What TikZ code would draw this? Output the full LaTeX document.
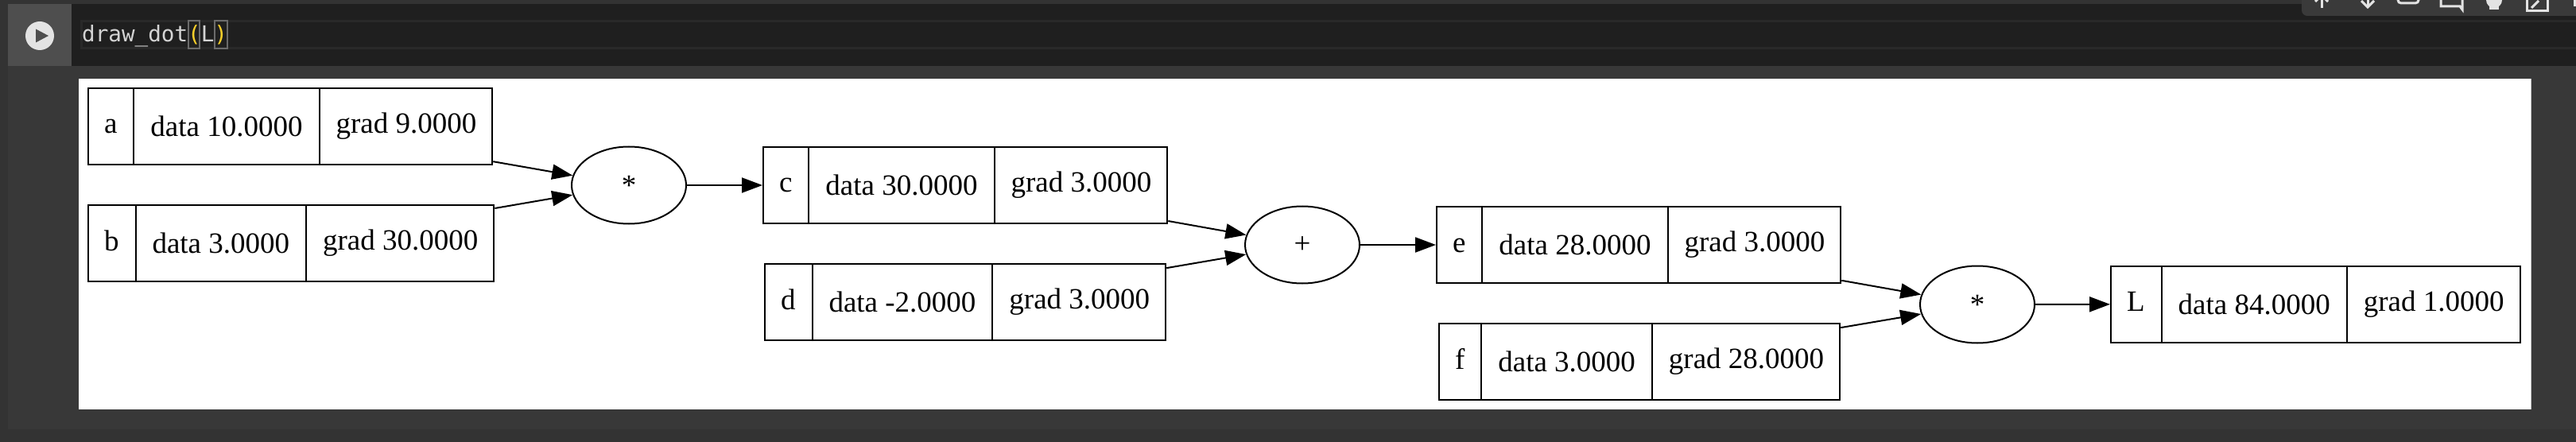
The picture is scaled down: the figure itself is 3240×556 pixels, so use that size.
\documentclass[tikz,border=0pt]{standalone}
\usepackage{fontspec}
\setmainfont{Liberation Serif}
\newfontfamily\codefont{DejaVu Sans Mono}
\usepackage{xcolor}
\usetikzlibrary{shapes.multipart,shapes.geometric,arrows.meta,positioning}

\definecolor{pagebg}{HTML}{333333}
\definecolor{cellbg}{HTML}{383838}
\definecolor{playstrip}{HTML}{4E4E4E}
\definecolor{codebg}{HTML}{1F1F1F}
\definecolor{inputline}{HTML}{292929}
\definecolor{codetext}{HTML}{D4D4D4}
\definecolor{parenyellow}{HTML}{F5CE2A}
\definecolor{parenbox}{HTML}{6B6B6B}
\definecolor{toolbg}{HTML}{3A3A3A}
\definecolor{iconwhite}{HTML}{E3E3E3}

\tikzset{
  valbox/.style={draw, line width=2pt, rectangle split, rectangle split horizontal,
    rectangle split parts=3, inner xsep=20pt, inner ysep=31pt,
    text height=26pt, text depth=8pt, anchor=west,
    font=\fontsize{37}{44}\selectfont},
  opnode/.style={draw, line width=2pt, ellipse, minimum width=144pt,
    minimum height=97pt, inner sep=0pt, font=\fontsize{37}{44}\selectfont},
  wire/.style={line width=2pt, -{Triangle[length=26pt,width=19pt]}},
  icon/.style={draw=iconwhite, line width=3pt},
}

\begin{document}
\begin{tikzpicture}[x=1pt, y=-1pt]
        \useasboundingbox (0,0) rectangle (3240,556);

        % Notebook cell
        \fill[pagebg] (0,0) rectangle (3240,556);
        \fill[cellbg] (10,5) rectangle (3240,540);
        \fill[playstrip] (10,5) rectangle (90,83);
        \fill[codebg] (90,5) rectangle (3240,83);
        \draw[line width=3pt, draw=inputline] (102,26.5) rectangle (3250,60.5);
        \node[circle, fill=iconwhite, minimum size=36pt, inner sep=0pt] (play) at (50,45) {};
        \fill[playstrip] (45,36.5) -- (61,45) -- (45,53.5) -- cycle;
        \draw[line width=2pt, draw=parenbox] (237,26) rectangle (251,61);
        \draw[line width=2pt, draw=parenbox] (270,26) rectangle (286,61);
        \node[anchor=base west, inner sep=0pt, text=codetext,
          font=\codefont\fontsize{27.6}{33}\selectfont] (code) at (103,53)
          {draw\_dot{\color{parenyellow}(}L{\color{parenyellow})}};

        % Toolbar
        \begin{scope}
          \clip[rounded corners=7pt] (2895,-20) rectangle (3260,20);
          \fill[toolbg] (2895,-20) rectangle (3260,20);
          \draw[icon] (2920,-4) -- (2920,10);
          \draw[icon] (2912,2) -- (2920,-6) -- (2928,2);
          \draw[icon] (2978,-4) -- (2978,9);
          \draw[icon] (2970,1) -- (2978,9) -- (2986,1);
          \draw[icon, rounded corners=4pt] (3016,-10) rectangle (3042,4);
          \draw[icon] (3070,-5) -- (3070,8) -- (3094,8) -- (3097,12) -- (3097,-5);
          \fill[iconwhite] (3137,0) circle (10pt);
          \fill[iconwhite] (3131,6) rectangle (3143,12);
          \draw[icon] (3178,-5) -- (3178,14) -- (3204,14) -- (3204,-5);
          \draw[icon] (3184,10) -- (3193,1);
          \draw[icon] (3238,-5) -- (3238,8);
        \end{scope}

        % Output
        \fill[white] (99,99) rectangle (3183,515);
        \draw[line width=1pt, draw=gray!50] (3183,99) -- (3183,515);

        % Values
        \node[valbox] (a) at (110,159) {a \nodepart{two} data 10.0000 \nodepart{three} grad 9.0000};
        \node[valbox] (b) at (110,306) {b \nodepart{two} data 3.0000 \nodepart{three} grad 30.0000};
        \node[valbox] (c) at (959,233) {c \nodepart{two} data 30.0000 \nodepart{three} grad 3.0000};
        \node[valbox] (d) at (961,380) {d \nodepart{two} data -2.0000 \nodepart{three} grad 3.0000};
        \node[valbox] (e) at (1806,308) {e \nodepart{two} data 28.0000 \nodepart{three} grad 3.0000};
        \node[valbox] (f) at (1809,455) {f \nodepart{two} data 3.0000 \nodepart{three} grad 28.0000};
        \node[valbox] (L) at (2654,382.5) {L \nodepart{two} data 84.0000 \nodepart{three} grad 1.0000};

        % Operations
        \node[opnode] (cop) at (791,233) {*};
        \node[opnode] (eop) at (1638,308) {+};
        \node[opnode] (Lop) at (2487,383) {*};

        % Arrows
        \draw[wire] (a) -- (cop);
        \draw[wire] (b) -- (cop);
        \draw[wire] (cop) -- (c);
        \draw[wire] (c) -- (eop);
        \draw[wire] (d) -- (eop);
        \draw[wire] (eop) -- (e);
        \draw[wire] (e) -- (Lop);
        \draw[wire] (f) -- (Lop);
        \draw[wire] (Lop) -- (L);
    \end{tikzpicture}
\end{document}
